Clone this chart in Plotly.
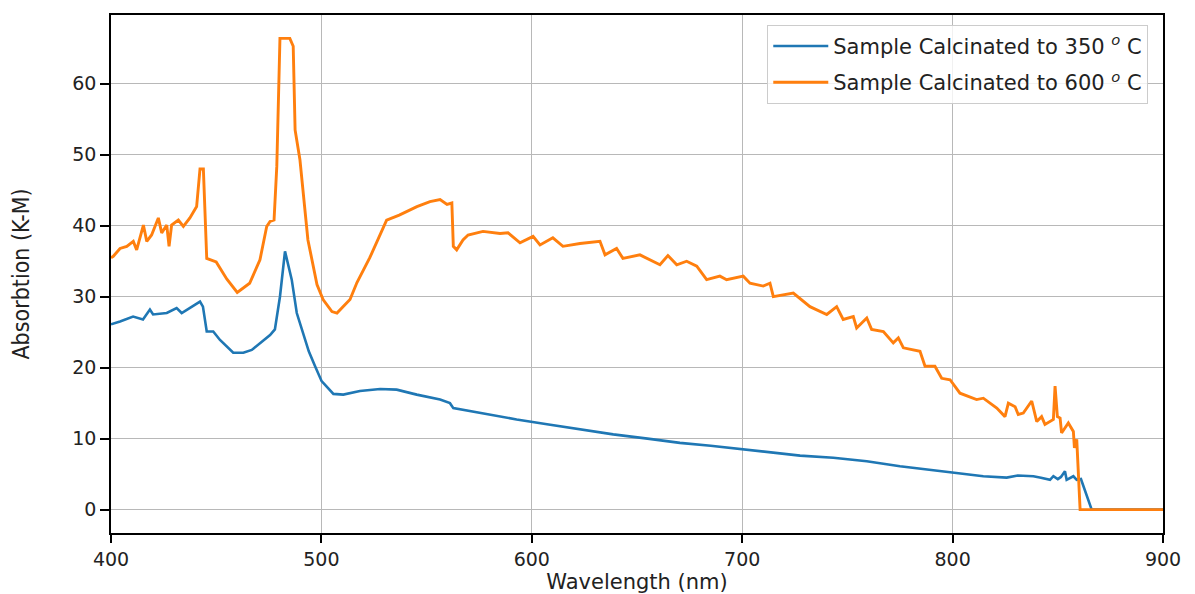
import plotly.graph_objects as go

# Sample calcinated to 350 C
wl_350 = [400, 404.3, 410.5, 415.2, 418.5, 420, 426.5, 431.2, 433.6, 437.5, 442.3, 443.7, 445.5,
          448.6, 451.8, 458.1, 462.9, 466.9, 470.8, 475.6, 477.9, 480.3, 482.7, 485.9, 488.3,
          491, 494, 497, 500.1, 505.7, 510.4, 518.3, 527.9, 535.8, 545.3, 556.4, 561.1, 562.7,
          572.2, 584.9, 592.8, 608, 622.9, 638.7, 655, 670.4, 685, 700.5, 715, 727.5, 743.3,
          759.2, 775, 790.8, 800.8, 814.6, 825.7, 831, 838.4, 842, 846.3, 847.9, 850, 851.5,
          853.4, 854.2, 857.4, 859, 861, 866.1, 900]
abs_350 = [26.1, 26.5, 27.2, 26.8, 28.2, 27.5, 27.7, 28.4, 27.7, 28.4, 29.3, 28.6, 25.1,
           25.1, 23.9, 22.1, 22.1, 22.5, 23.5, 24.6, 25.4, 30.0, 36.4, 32.4, 27.7,
           25.0, 22.3, 20.2, 18.1, 16.3, 16.2, 16.7, 17.0, 16.9, 16.2, 15.5, 15.0, 14.3,
           13.8, 13.1, 12.7, 12.0, 11.3, 10.6, 10.0, 9.4, 9.0, 8.5, 8.0, 7.6, 7.3,
           6.8, 6.1, 5.6, 5.2, 4.7, 4.5, 4.8, 4.7, 4.5, 4.2, 4.7, 4.3, 4.6,
           5.4, 4.2, 4.7, 4.2, 4.3, 0.0, 0.0]

# Sample calcinated to 600 C
wl_600 = [400, 401.1, 404.3, 407.5, 410.6, 412.2, 415.4, 417, 419.3, 422.5, 424.1, 426.5, 427.6,
          428.8, 432, 434.4, 437.5, 439.9, 440.7, 442.3, 443.9, 445.5, 450, 455, 460, 465.9,
          469.2, 470.8, 474, 475.6, 477.5, 478.8, 480.3, 485, 486.6, 487.5, 489.8, 493.6,
          497.9, 500.8, 505, 507.4, 513.6, 516.9, 523, 531, 537, 545.4, 551.6, 556.4, 559.7,
          562, 562.7, 564.3, 567.3, 569.7, 576.8, 584.9, 588.7, 594.4, 600.6, 603.9, 610,
          614.8, 622.9, 632.4, 634.8, 640.3, 643.3, 651.4, 660.9, 664.7, 668.9, 673.6, 678.4,
          683.1, 689.4, 692.6, 700.5, 703.7, 710, 713.2, 714.8, 724.3, 732.2, 740.2, 744.9,
          748, 752.8, 754.4, 759.2, 761.5, 767.1, 771.8, 774.2, 776.6, 784.5, 786.9, 791.6,
          794.8, 798.8, 803.5, 811.4, 814.6, 821, 824.9, 826.5, 829.7, 831.2, 833.6, 837.6,
          840, 842.3, 843.9, 847.9, 848.7, 849.8, 851.1, 851.8, 855, 857.4, 857.9, 859,
          860.6, 900]
abs_600 = [35.5, 35.7, 36.8, 37.1, 37.8, 36.6, 40.1, 37.8, 38.7, 41.1, 39.0, 40.1, 37.1,
           40.1, 40.8, 39.9, 41.1, 42.3, 42.7, 48.0, 48.0, 35.4, 34.9, 32.5, 30.6, 31.9,
           34.3, 35.2, 39.9, 40.6, 40.8, 48.4, 66.4, 66.4, 65.3, 53.5, 49.3, 38.0,
           31.7, 29.6, 27.9, 27.7, 29.6, 32.0, 35.5, 40.8, 41.5, 42.7, 43.4, 43.7, 43.0,
           43.2, 37.1, 36.6, 38.0, 38.7, 39.2, 38.9, 39.0, 37.6, 38.5, 37.3, 38.3,
           37.1, 37.5, 37.8, 35.9, 36.8, 35.4, 35.9, 34.5, 35.8, 34.5, 35.0, 34.3,
           32.4, 32.9, 32.4, 32.9, 31.9, 31.5, 31.9, 30.0, 30.5, 28.6, 27.5, 28.6,
           26.8, 27.2, 25.6, 27.0, 25.4, 25.1, 23.5, 24.2, 22.8, 22.3, 20.2, 20.2,
           18.5, 18.3, 16.4, 15.5, 15.7, 14.3, 13.1, 15.0, 14.5, 13.4, 13.6, 15.3,
           12.4, 13.1, 12.0, 12.7, 17.4, 13.1, 12.9, 10.8, 12.2, 11.0, 8.7, 9.9,
           0.0, 0.0]

x_ticks = [400, 500, 600, 700, 800, 900]
y_ticks = [0, 10, 20, 30, 40, 50, 60]

names = ["Sample Calcinated to 350 <sup><i>o</i></sup> C",
         "Sample Calcinated to 600 <sup><i>o</i></sup> C"]

fig = go.Figure()
fig.add_trace(go.Scatter(x=wl_350, y=abs_350, mode="lines", name=names[0],
                         legendgroup="a", line=dict(color="#1f77b4", width=2.6)))
fig.add_trace(go.Scatter(x=wl_600, y=abs_600, mode="lines", name=names[1],
                         legendgroup="b", line=dict(color="#ff7f0e", width=2.9)))

axis_common = dict(showline=True, linecolor="black", linewidth=1.5, mirror=True,
                   ticks="outside", tickwidth=1.5, tickcolor="black",
                   showgrid=True, gridcolor="#b8b8b8", gridwidth=1.3, zeroline=False,
                   automargin=False,
                   tickfont=dict(family="DejaVu Sans", size=19, color="#222"))

fig.update_layout(
    width=1195, height=594,
    margin=dict(l=111, r=32, t=15, b=61),
    paper_bgcolor="white", plot_bgcolor="white",
    xaxis=dict(range=[400, 900], tickvals=x_ticks, ticklen=8,
               title=dict(text="Wavelength (nm)", standoff=12,
                          font=dict(family="DejaVu Sans", size=21, color="#222")),
               **axis_common),
    yaxis=dict(range=[-3.3, 69.7], tickvals=y_ticks, ticklen=9,
               title=dict(text="Absorbtion (K-M)", standoff=36,
                          font=dict(family="Liberation Sans Narrow, DejaVu Sans Condensed, sans-serif",
                                    size=23, color="#222")),
               **axis_common),
    legend=dict(x=0.986, y=0.981, xanchor="right", yanchor="top",
                bgcolor="rgba(255,255,255,0.8)", bordercolor="#cccccc", borderwidth=1,
                font=dict(family="DejaVu Sans", size=21, color="#222"),
                itemwidth=55,
                traceorder="grouped", tracegroupgap=6),
    showlegend=True,
)

fig.write_html("out.html")
